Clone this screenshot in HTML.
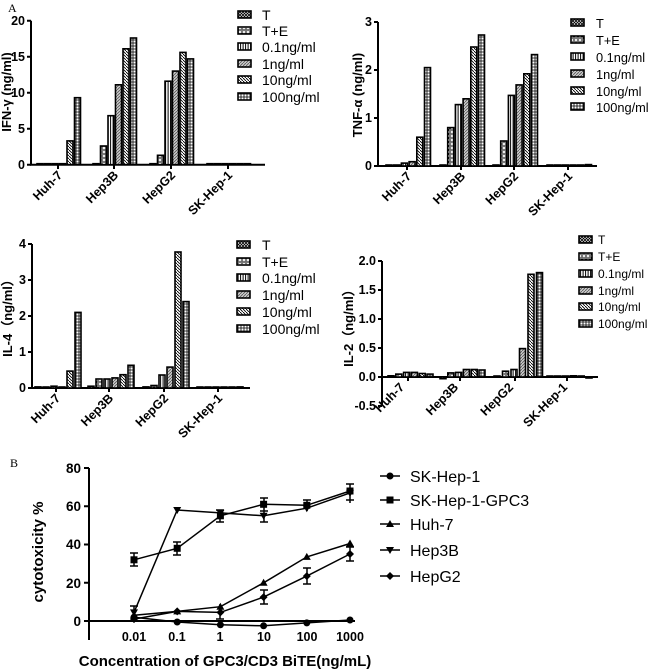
<!DOCTYPE html>
<html><head><meta charset="utf-8"><style>
html,body{margin:0;padding:0;background:#fff;}
svg{display:block;}
.t{font-family:"Liberation Sans",Arial,sans-serif;font-weight:bold;font-size:12.5px;fill:#000;}
.l{font-family:"Liberation Sans",Arial,sans-serif;font-size:14px;fill:#000;}
.ax{stroke:#000;stroke-width:2;fill:none;}
rect.b{stroke:#000;stroke-width:1.6;}
</style></head><body>
<svg width="650" height="670" viewBox="0 0 650 670" xmlns="http://www.w3.org/2000/svg">
<defs>
<pattern id="p0" width="3" height="3" patternUnits="userSpaceOnUse"><rect width="3" height="3" fill="#fff"/><path d="M0,0L3,3M3,0L0,3" stroke="#000" stroke-width="0.8"/></pattern>
<pattern id="p1" width="4" height="4" patternUnits="userSpaceOnUse"><rect width="4" height="4" fill="#fff"/><circle cx="2" cy="2" r="1.2" fill="none" stroke="#000" stroke-width="0.8"/></pattern>
<pattern id="p2" width="2.5" height="3" patternUnits="userSpaceOnUse"><rect width="2.5" height="3" fill="#fff"/><path d="M0.6,0V3" stroke="#000" stroke-width="1"/></pattern>
<pattern id="p3" width="3" height="3" patternUnits="userSpaceOnUse"><rect width="3" height="3" fill="#ccc"/><path d="M0,3L3,0" stroke="#555" stroke-width="0.8"/></pattern>
<pattern id="p4" width="3" height="3" patternUnits="userSpaceOnUse"><rect width="3" height="3" fill="#fff"/><path d="M0,0L3,3" stroke="#000" stroke-width="0.9"/></pattern>
<pattern id="p5" width="3" height="3" patternUnits="userSpaceOnUse"><rect width="3" height="3" fill="#fff"/><path d="M1,0V3M0,1H3" stroke="#000" stroke-width="0.8"/></pattern>
</defs>

<text x="8" y="12" style="font-family:'Liberation Serif',serif;font-size:12px">A</text>

<!-- Panel 1 IFN -->
<g>
<path class="ax" d="M31,20.7V164.7H265"/>
<path class="ax" d="M27,164.7H31M27,128.7H31M27,92.7H31M27,56.7H31M27,20.7H31M58,164.7V169M114,164.7V169M171,164.7V169M228,164.7V169"/>
<g class="t" text-anchor="end"><text x="25" y="169">0</text><text x="25" y="133">5</text><text x="25" y="97">10</text><text x="25" y="61">15</text><text x="25" y="25">20</text></g>
<text class="t" transform="translate(11,92) rotate(-90)" text-anchor="middle" style="font-size:13px">IFN-γ (ng/ml)</text>
<g class="t" text-anchor="end"><text transform="translate(63,176) rotate(-45)">Huh-7</text><text transform="translate(119,176) rotate(-45)">Hep3B</text><text transform="translate(176,176) rotate(-45)">HepG2</text><text transform="translate(233,176) rotate(-45)">SK-Hep-1</text></g>
<rect class="b" fill="url(#p0)" x="37" y="163.7" width="6" height="1"/><rect class="b" fill="url(#p1)" x="44.5" y="163.7" width="6" height="1"/><rect class="b" fill="url(#p2)" x="52" y="163.7" width="6" height="1"/><rect class="b" fill="url(#p3)" x="59.5" y="163.7" width="6" height="1"/><rect class="b" fill="url(#p4)" x="67" y="140.9" width="6" height="23.8"/><rect class="b" fill="url(#p5)" x="74.5" y="97.7" width="6" height="67"/>
<rect class="b" fill="url(#p0)" x="93" y="163.7" width="6" height="1"/><rect class="b" fill="url(#p1)" x="100.5" y="146" width="6" height="18.7"/><rect class="b" fill="url(#p2)" x="108" y="115.7" width="6" height="49"/><rect class="b" fill="url(#p3)" x="115.5" y="84.8" width="6" height="79.9"/><rect class="b" fill="url(#p4)" x="123" y="48.8" width="6" height="115.9"/><rect class="b" fill="url(#p5)" x="130.5" y="38" width="6" height="126.7"/>
<rect class="b" fill="url(#p0)" x="150" y="163.7" width="6" height="1"/><rect class="b" fill="url(#p1)" x="157.5" y="155.3" width="6" height="9.4"/><rect class="b" fill="url(#p2)" x="165" y="81.2" width="6" height="83.5"/><rect class="b" fill="url(#p3)" x="172.5" y="71.1" width="6" height="93.6"/><rect class="b" fill="url(#p4)" x="180" y="52.4" width="6" height="112.3"/><rect class="b" fill="url(#p5)" x="187.5" y="58.9" width="6" height="105.8"/>
<rect class="b" fill="url(#p0)" x="207" y="163.7" width="6" height="1"/><rect class="b" fill="url(#p1)" x="214.5" y="163.7" width="6" height="1"/><rect class="b" fill="url(#p2)" x="222" y="163.7" width="6" height="1"/><rect class="b" fill="url(#p3)" x="229.5" y="163.7" width="6" height="1"/><rect class="b" fill="url(#p4)" x="237" y="163.7" width="6" height="1"/><rect class="b" fill="url(#p5)" x="244.5" y="163.7" width="6" height="1"/>
<g><rect class="b" fill="url(#p0)" x="238" y="11" width="13" height="7"/><rect class="b" fill="url(#p1)" x="238" y="27" width="13" height="7"/><rect class="b" fill="url(#p2)" x="238" y="43" width="13" height="7"/><rect class="b" fill="url(#p3)" x="238" y="60" width="13" height="7"/><rect class="b" fill="url(#p4)" x="238" y="76" width="13" height="7"/><rect class="b" fill="url(#p5)" x="238" y="93" width="13" height="7"/></g>
<g class="l"><text x="262" y="20">T</text><text x="262" y="36">T+E</text><text x="262" y="52">0.1ng/ml</text><text x="262" y="69">1ng/ml</text><text x="262" y="85">10ng/ml</text><text x="262" y="102">100ng/ml</text></g>
</g>

<!-- Panel 2 TNF -->
<g>
<path class="ax" d="M378,22V166H597"/>
<path class="ax" d="M374,166H378M374,118H378M374,70H378M374,22H378M407,166V170M461,166V170M514,166V170M568,166V170"/>
<g class="t" text-anchor="end"><text x="372" y="170">0</text><text x="372" y="122">1</text><text x="372" y="74">2</text><text x="372" y="26">3</text></g>
<text class="t" transform="translate(362,95) rotate(-90)" text-anchor="middle" style="font-size:13px">TNF-α (ng/ml)</text>
<g class="t" text-anchor="end"><text transform="translate(412,177) rotate(-45)">Huh-7</text><text transform="translate(466,177) rotate(-45)">Hep3B</text><text transform="translate(519,177) rotate(-45)">HepG2</text><text transform="translate(573,177) rotate(-45)">SK-Hep-1</text></g>
<rect class="b" fill="url(#p0)" x="386" y="165" width="6" height="1"/><rect class="b" fill="url(#p1)" x="393.7" y="165" width="6" height="1"/><rect class="b" fill="url(#p2)" x="401.4" y="163.1" width="6" height="2.9"/><rect class="b" fill="url(#p3)" x="409.1" y="161.7" width="6" height="4.3"/><rect class="b" fill="url(#p4)" x="416.8" y="137.2" width="6" height="28.8"/><rect class="b" fill="url(#p5)" x="424.5" y="67.6" width="6" height="98.4"/>
<rect class="b" fill="url(#p0)" x="440" y="165" width="6" height="1"/><rect class="b" fill="url(#p1)" x="447.7" y="127.6" width="6" height="38.4"/><rect class="b" fill="url(#p2)" x="455.4" y="104.6" width="6" height="61.4"/><rect class="b" fill="url(#p3)" x="463.1" y="98.8" width="6" height="67.2"/><rect class="b" fill="url(#p4)" x="470.8" y="47" width="6" height="119"/><rect class="b" fill="url(#p5)" x="478.5" y="35" width="6" height="131"/>
<rect class="b" fill="url(#p0)" x="493" y="165" width="6" height="1"/><rect class="b" fill="url(#p1)" x="500.7" y="141" width="6" height="25"/><rect class="b" fill="url(#p2)" x="508.4" y="95.4" width="6" height="70.6"/><rect class="b" fill="url(#p3)" x="516.1" y="84.9" width="6" height="81.1"/><rect class="b" fill="url(#p4)" x="523.8" y="73.8" width="6" height="92.2"/><rect class="b" fill="url(#p5)" x="531.5" y="54.6" width="6" height="111.4"/>
<rect class="b" fill="url(#p0)" x="547" y="165" width="6" height="1"/><rect class="b" fill="url(#p1)" x="554.7" y="165" width="6" height="1"/><rect class="b" fill="url(#p2)" x="562.4" y="165" width="6" height="1"/><rect class="b" fill="url(#p3)" x="570.1" y="165" width="6" height="1"/><rect class="b" fill="url(#p4)" x="577.8" y="165" width="6" height="1"/><rect class="b" fill="url(#p5)" x="585.5" y="164.6" width="6" height="1.4"/>
<g><rect class="b" fill="url(#p0)" x="571" y="19" width="13" height="7"/><rect class="b" fill="url(#p1)" x="571" y="36" width="13" height="7"/><rect class="b" fill="url(#p2)" x="571" y="53" width="13" height="7"/><rect class="b" fill="url(#p3)" x="571" y="70" width="13" height="7"/><rect class="b" fill="url(#p4)" x="571" y="87" width="13" height="7"/><rect class="b" fill="url(#p5)" x="571" y="103" width="13" height="7"/></g>
<g class="l" style="font-size:12.8px"><text x="596" y="28">T</text><text x="596" y="45">T+E</text><text x="596" y="62">0.1ng/ml</text><text x="596" y="79">1ng/ml</text><text x="596" y="96">10ng/ml</text><text x="596" y="112">100ng/ml</text></g>
</g>

<!-- Panel 3 IL-4 -->
<g>
<path class="ax" d="M32,244V388H250"/>
<path class="ax" d="M28,388H32M28,352H32M28,316H32M28,280H32M28,244H32M56,388V392M109,388V392M164,388V392M218,388V392"/>
<g class="t" text-anchor="end"><text x="26" y="392">0</text><text x="26" y="356">1</text><text x="26" y="320">2</text><text x="26" y="284">3</text><text x="26" y="248">4</text></g>
<text class="t" transform="translate(12,315) rotate(-90)" text-anchor="middle" style="font-size:13px">IL-4（ng/ml）</text>
<g class="t" text-anchor="end"><text transform="translate(61,399) rotate(-45)">Huh-7</text><text transform="translate(114,399) rotate(-45)">Hep3B</text><text transform="translate(169,399) rotate(-45)">HepG2</text><text transform="translate(223,399) rotate(-45)">SK-Hep-1</text></g>
<rect class="b" fill="url(#p0)" x="35" y="386.9" width="6" height="1.1"/><rect class="b" fill="url(#p1)" x="43" y="387" width="6" height="1"/><rect class="b" fill="url(#p2)" x="51" y="386.2" width="6" height="1.8"/><rect class="b" fill="url(#p3)" x="59" y="387" width="6" height="1"/><rect class="b" fill="url(#p4)" x="67" y="371.1" width="6" height="16.9"/><rect class="b" fill="url(#p5)" x="75" y="312.4" width="6" height="75.6"/>
<rect class="b" fill="url(#p0)" x="88" y="386.2" width="6" height="1.8"/><rect class="b" fill="url(#p1)" x="96" y="379" width="6" height="9"/><rect class="b" fill="url(#p2)" x="104" y="379" width="6" height="9"/><rect class="b" fill="url(#p3)" x="112" y="377.9" width="6" height="10.1"/><rect class="b" fill="url(#p4)" x="120" y="374.7" width="6" height="13.3"/><rect class="b" fill="url(#p5)" x="128" y="365.3" width="6" height="22.7"/>
<rect class="b" fill="url(#p0)" x="143" y="386.9" width="6" height="1.1"/><rect class="b" fill="url(#p1)" x="151" y="385.5" width="6" height="2.5"/><rect class="b" fill="url(#p2)" x="159" y="375" width="6" height="13"/><rect class="b" fill="url(#p3)" x="167" y="367.1" width="6" height="20.9"/><rect class="b" fill="url(#p4)" x="175" y="252" width="6" height="136"/><rect class="b" fill="url(#p5)" x="183" y="301.6" width="6" height="86.4"/>
<rect class="b" fill="url(#p0)" x="197" y="387" width="6" height="1"/><rect class="b" fill="url(#p1)" x="205" y="387" width="6" height="1"/><rect class="b" fill="url(#p2)" x="213" y="387" width="6" height="1"/><rect class="b" fill="url(#p3)" x="221" y="387" width="6" height="1"/><rect class="b" fill="url(#p4)" x="229" y="387" width="6" height="1"/><rect class="b" fill="url(#p5)" x="237" y="386.9" width="6" height="1.1"/>
<g><rect class="b" fill="url(#p0)" x="237" y="241" width="13" height="7"/><rect class="b" fill="url(#p1)" x="237" y="258" width="13" height="7"/><rect class="b" fill="url(#p2)" x="237" y="274" width="13" height="7"/><rect class="b" fill="url(#p3)" x="237" y="291" width="13" height="7"/><rect class="b" fill="url(#p4)" x="237" y="308" width="13" height="7"/><rect class="b" fill="url(#p5)" x="237" y="325" width="13" height="7"/></g>
<g class="l"><text x="262" y="250">T</text><text x="262" y="267">T+E</text><text x="262" y="283">0.1ng/ml</text><text x="262" y="300">1ng/ml</text><text x="262" y="317">10ng/ml</text><text x="262" y="334">100ng/ml</text></g>
</g>

<!-- Panel 4 IL-2 -->
<g>
<path class="ax" d="M382,261V406M382,377H598"/>
<path class="ax" d="M378,406H382M378,377H382M378,348H382M378,319H382M378,290H382M378,261H382M408,377V381M460,377V381M515,377V381M567,377V381"/>
<g class="t" text-anchor="end"><text x="376" y="410">-0.5</text><text x="376" y="381">0.0</text><text x="376" y="352">0.5</text><text x="376" y="323">1.0</text><text x="376" y="294">1.5</text><text x="376" y="265">2.0</text></g>
<text class="t" transform="translate(353,325) rotate(-90)" text-anchor="middle" style="font-size:13px">IL-2（ng/ml）</text>
<g class="t" text-anchor="end"><text transform="translate(405,388) rotate(-45)">Huh-7</text><text transform="translate(459,388) rotate(-45)">Hep3B</text><text transform="translate(514,388) rotate(-45)">HepG2</text><text transform="translate(568,388) rotate(-45)">SK-Hep-1</text></g>
<rect class="b" fill="url(#p0)" x="388" y="375.8" width="6" height="1.2"/><rect class="b" fill="url(#p1)" x="395.8" y="374.1" width="6" height="2.9"/><rect class="b" fill="url(#p2)" x="403.6" y="372.4" width="6" height="4.6"/><rect class="b" fill="url(#p3)" x="411.4" y="372.4" width="6" height="4.6"/><rect class="b" fill="url(#p4)" x="419.2" y="373.5" width="6" height="3.5"/><rect class="b" fill="url(#p5)" x="427" y="374.1" width="6" height="2.9"/>
<rect class="b" fill="url(#p0)" x="440" y="377" width="6" height="1.7"/><rect class="b" fill="url(#p1)" x="447.8" y="372.9" width="6" height="4.1"/><rect class="b" fill="url(#p2)" x="455.6" y="372.4" width="6" height="4.6"/><rect class="b" fill="url(#p3)" x="463.4" y="369.5" width="6" height="7.5"/><rect class="b" fill="url(#p4)" x="471.2" y="369.5" width="6" height="7.5"/><rect class="b" fill="url(#p5)" x="479" y="370" width="6" height="7"/>
<rect class="b" fill="url(#p0)" x="494" y="376" width="6" height="1"/><rect class="b" fill="url(#p1)" x="502.5" y="371.2" width="6" height="5.8"/><rect class="b" fill="url(#p2)" x="511" y="369.5" width="6" height="7.5"/><rect class="b" fill="url(#p3)" x="519.5" y="348.6" width="6" height="28.4"/><rect class="b" fill="url(#p4)" x="528" y="274.3" width="6" height="102.7"/><rect class="b" fill="url(#p5)" x="536.5" y="272.6" width="6" height="104.4"/>
<rect class="b" fill="url(#p0)" x="547" y="376" width="6" height="1"/><rect class="b" fill="url(#p1)" x="554.8" y="376" width="6" height="1"/><rect class="b" fill="url(#p2)" x="562.6" y="376" width="6" height="1"/><rect class="b" fill="url(#p3)" x="570.4" y="375.8" width="6" height="1.2"/><rect class="b" fill="url(#p4)" x="578.2" y="376" width="6" height="1"/><rect class="b" fill="url(#p5)" x="586" y="377" width="6" height="1"/>
<g><rect class="b" fill="url(#p0)" x="579" y="236" width="13" height="7"/><rect class="b" fill="url(#p1)" x="579" y="253" width="13" height="7"/><rect class="b" fill="url(#p2)" x="579" y="270" width="13" height="7"/><rect class="b" fill="url(#p3)" x="579" y="287" width="13" height="7"/><rect class="b" fill="url(#p4)" x="579" y="303" width="13" height="7"/><rect class="b" fill="url(#p5)" x="579" y="320" width="13" height="7"/></g>
<g class="l" style="font-size:12px"><text x="598" y="244">T</text><text x="598" y="261">T+E</text><text x="598" y="278">0.1ng/ml</text><text x="598" y="295">1ng/ml</text><text x="598" y="311">10ng/ml</text><text x="598" y="328">100ng/ml</text></g>
</g>

<!-- Panel B -->
<text x="10" y="467" style="font-family:'Liberation Serif',serif;font-size:12px">B</text>
<g>
<path class="ax" d="M89,468V640M89,621H355"/>
<path class="ax" d="M84,621H89M84,582.75H89M84,544.5H89M84,506.25H89M84,468H89"/>
<g class="t" text-anchor="end" style="font-size:13.5px"><text x="81" y="626">0</text><text x="81" y="588">20</text><text x="81" y="549">40</text><text x="81" y="511">60</text><text x="81" y="473">80</text></g>
<g class="t" text-anchor="middle" style="font-size:12.5px"><text x="134" y="641">0.01</text><text x="177" y="641">0.1</text><text x="220" y="641">1</text><text x="264" y="641">10</text><text x="307" y="641">100</text><text x="350" y="641">1000</text></g>
<text class="t" transform="translate(43,552) rotate(-90)" text-anchor="middle" style="font-size:15px">cytotoxicity %</text>
<text class="t" x="225" y="666" text-anchor="middle" style="font-size:15px">Concentration of GPC3/CD3 BiTE(ng/mL)</text>
<g fill="none" stroke="#000" stroke-width="1.5">
<polyline points="134,617.2 177.2,622 220.4,624.8 263.6,625.8 306.8,622.9 350,620"/>
<polyline points="134,559.8 177.2,548.3 220.4,515.8 263.6,504.3 306.8,505.3 350,491"/>
<polyline points="134,615.3 177.2,611.4 220.4,606.7 263.6,582.8 306.8,556.9 350,543.5"/>
<polyline points="134,612.4 177.2,510 220.4,512.9 263.6,515.8 306.8,508.2 350,492.9"/>
<polyline points="134,619.1 177.2,611.4 220.4,612.4 263.6,597.1 306.8,576.1 350,554"/>
<path d="M134,553V566M130,553H138M130,566H138M177,542V555M173,542H181M173,555H181M220,510V522M216,510H224M216,522H224M264,498V511M260,498H268M260,511H268M264,509V522M260,522H268M307,500V511M303,500H311M350,484V500M346,484H354M346,500H354M264,590V604M260,590H268M260,604H268M307,568V584M303,568H311M303,584H311M350,547V561M346,547H354M346,561H354M350,484V503M134,606V619M130,606H138M220,604V619M216,619H224"/>
</g>
<g fill="#000">
<circle cx="134" cy="617.2" r="3.5"/><circle cx="177.2" cy="622" r="3.5"/><circle cx="220.4" cy="624.8" r="3.5"/><circle cx="263.6" cy="625.8" r="3.5"/><circle cx="306.8" cy="622.9" r="3.5"/><circle cx="350" cy="620" r="3.5"/>
<rect x="130.5" y="556.3" width="7" height="7"/><rect x="173.7" y="544.8" width="7" height="7"/><rect x="216.9" y="512.3" width="7" height="7"/><rect x="260.1" y="500.8" width="7" height="7"/><rect x="303.3" y="501.8" width="7" height="7"/><rect x="346.5" y="487.5" width="7" height="7"/>
<path d="M134,611.3l4,7h-8zM177.2,607.4l4,7h-8zM220.4,602.7l4,7h-8zM263.6,578.8l4,7h-8zM306.8,552.9l4,7h-8zM350,539.5l4,7h-8z"/>
<path d="M134,616.4l4,-7h-8zM177.2,514l4,-7h-8zM220.4,516.9l4,-7h-8zM263.6,519.8l4,-7h-8zM306.8,512.2l4,-7h-8zM350,496.9l4,-7h-8z"/>
<path d="M134,615.1l4,4-4,4-4-4zM177.2,607.4l4,4-4,4-4-4zM220.4,608.4l4,4-4,4-4-4zM263.6,593.1l4,4-4,4-4-4zM306.8,572.1l4,4-4,4-4-4zM350,550l4,4-4,4-4-4z"/>
</g>
<g stroke="#000" stroke-width="1.5"><path d="M380,476H400M380,500H400M380,524H400M380,550H400M380,576H400"/></g>
<g fill="#000"><circle cx="390" cy="476" r="3.5"/><rect x="386.5" y="496.5" width="7" height="7"/><path d="M390,520l4,7h-8z"/><path d="M390,554l4,-7h-8z"/><path d="M390,572l4,4-4,4-4-4z"/></g>
<g class="l" style="font-size:16px"><text x="410" y="482">SK-Hep-1</text><text x="410" y="506">SK-Hep-1-GPC3</text><text x="410" y="530">Huh-7</text><text x="410" y="556">Hep3B</text><text x="410" y="582">HepG2</text></g>
</g>
</svg>
</body></html>
